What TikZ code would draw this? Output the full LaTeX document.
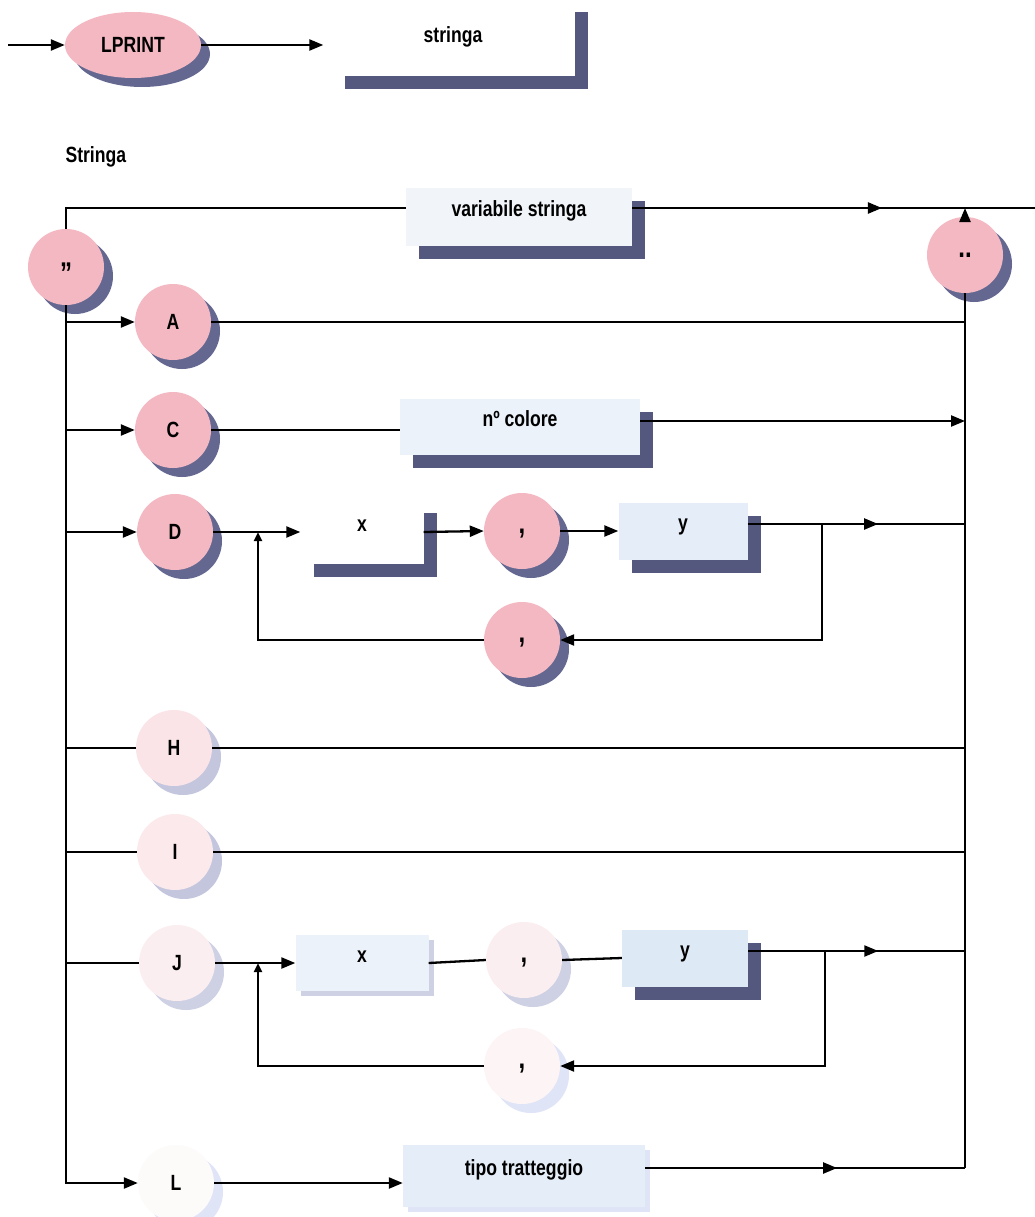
\documentclass[tikz,border=0pt]{standalone}
\usepackage{fontspec}
\setmainfont{Liberation Sans}[FakeStretch=0.8]
\usetikzlibrary{arrows.meta,shapes.geometric,shadows,decorations.markings,calc}

% fills of the round terminals, fading from pink to white down the chart
\definecolor{pinkA}{RGB}{244,184,194}
\definecolor{pinkH}{RGB}{250,228,231}
\definecolor{pinkI}{RGB}{251,233,235}
\definecolor{pinkJ}{RGB}{251,238,240}
\definecolor{pinkJb}{RGB}{252,244,245}
\definecolor{pinkL}{RGB}{253,250,250}
% shadow tones
\definecolor{shdark}{RGB}{84,88,126}
\definecolor{shball}{RGB}{100,104,145}
\definecolor{shmid}{RGB}{196,198,222}
\definecolor{shlight}{RGB}{206,208,228}
\definecolor{shfaint}{RGB}{224,228,247}
% fills of the rectangular non-terminals
\definecolor{bxA}{RGB}{241,244,248}
\definecolor{bxB}{RGB}{236,242,249}
\definecolor{bxC}{RGB}{228,237,248}
\definecolor{bxD}{RGB}{222,233,246}

\newcommand{\punct}[2]{\raisebox{#1}{\fontsize{30pt}{30pt}\selectfont #2}}

\tikzset{
  wire/.style={line width=2.3pt},
  midarrow/.style={postaction={decorate},
    decoration={markings,mark=at position #1 with {\arrow{>}}}},
  ball/.style={circle, minimum size=76pt, inner sep=0pt,
    text height=14pt, text depth=0pt, fill=#1},
  ballshadow/.style={drop shadow={shadow xshift=9pt, shadow yshift=-9pt,
    fill=#1, opacity=1}},
  termbox/.style={rectangle, inner sep=0pt, text height=10pt, text depth=12pt, fill=#1},
  boxshadow/.style={drop shadow={shadow xshift=13pt, shadow yshift=-13pt,
    fill=#1, opacity=1}},
  thinshadow/.style={drop shadow={shadow xshift=5pt, shadow yshift=-5pt,
    fill=#1, opacity=1}},
  smalltip/.style={-{Triangle[length=9pt,width=8pt]}}
}

\begin{document}
\begin{tikzpicture}[x=1pt, y=-1pt, >={Triangle[length=14pt,width=11pt]},
  every node/.style={font=\fontsize{22pt}{24pt}\selectfont\bfseries}]
\fill[white] (0,0) rectangle (1035,1217);
\useasboundingbox (0,0) rectangle (1035,1217);

% ---- LPRINT statement ----
\coordinate (in0) at (8,45);
\node[ellipse, minimum width=136pt, minimum height=66pt, inner sep=0pt,
  fill=pinkA, ballshadow=shball] (lp) at (133,45) {LPRINT};
\node[termbox=white, boxshadow=shdark, minimum width=243pt, minimum height=77pt,
  text height=14pt, text depth=4pt] (sb) at (453,38) {stringa};

\node[anchor=west] (lbl) at (62,157) {Stringa};

% ---- string definition ----
\node[ball=pinkA, ballshadow=shball] (q) at (66,267) {\punct{-9pt}{”}};
\node[termbox=bxA, boxshadow=shdark, minimum width=226pt, minimum height=58pt]
  (vs) at (519,217) {variabile stringa};
\node[ball=pinkA, ballshadow=shball] (e) at (965,255) {\punct{5pt}{..}};

\node[ball=pinkA, ballshadow=shball] (a) at (173,322) {A};
\node[ball=pinkA, ballshadow=shball] (c) at (173,430) {C};
\node[termbox=bxB, boxshadow=shdark, minimum width=240pt, minimum height=56pt]
  (nc) at (520,427) {nº colore};

\node[ball=pinkA, ballshadow=shball] (d) at (175,532) {D};
\node[termbox=white, boxshadow=shdark, minimum width=123pt, minimum height=64pt]
  (xd) at (362,532) {x};
\node[ball=pinkA, ballshadow=shball] (c1) at (522,531) {\punct{5pt}{,}};
\node[termbox=bxC, boxshadow=shdark, minimum width=129pt, minimum height=57pt]
  (yd) at (683,531) {y};
\node[ball=pinkA, ballshadow=shball] (c2) at (522,640) {\punct{5pt}{,}};

\node[ball=pinkH, ballshadow=shmid] (h) at (174,748) {H};
\node[ball=pinkI, ballshadow=shmid] (i) at (175,852) {I};

\node[ball=pinkJ, ballshadow=shlight] (j) at (177,963) {J};
\node[termbox=bxB, thinshadow=shlight, minimum width=133pt, minimum height=56pt]
  (xj) at (362,963) {x};
\node[ball=pinkJ, ballshadow=shlight] (cj) at (524,960) {\punct{5pt}{,}};
\node[termbox=bxD, boxshadow=shdark, minimum width=126pt, minimum height=57pt]
  (yj) at (685,958) {y};
\node[ball=pinkJb, ballshadow=shfaint] (cj2) at (522,1066) {\punct{5pt}{,}};

\node[ball=pinkL, ballshadow=shfaint] (l) at (176,1183) {L};
\node[termbox=bxC, thinshadow=shfaint, minimum width=242pt, minimum height=62pt]
  (tb) at (524,1176) {tipo tratteggio};

% ---- connectors ----
\draw[wire,->] (in0) -- (lp.west);
\draw[wire,->,shorten >=8pt] (lp.east) -- (lp.east -| sb.west);

\coordinate (top) at (0,208);
\coordinate (exit) at (1035,208);
\draw[wire] (q.north) -- (q.north |- top) -- (top -| vs.west);
\draw[wire,midarrow=0.62] (top -| vs.east) -- (exit);
\draw[wire,->] (e.north) -- (e.north |- top);

% left bus with its branches
\draw[wire,->] (q.south) |- (l.west);
\draw[wire,->] (q.south |- a) -- (a.west);
\draw[wire,->] (q.south |- c) -- (c.west);
\draw[wire,->] (q.south |- d) -- (d.west);
\draw[wire] (q.south |- h) -- (h.west);
\draw[wire] (q.south |- i) -- (i.west);
\draw[wire] (q.south |- j) -- (j.west);

% A, C
\draw[wire] (a.east) -- (a.east -| e.south);
\draw[wire] (c.east) -- (c.east -| nc.west);
\draw[wire,->] ([yshift=6pt]nc.east) -- ([yshift=6pt]nc.east -| e.south);

% D with its repeat loop
\coordinate (dr) at (822,524);
\coordinate (dl) at (258,532);
\draw[wire,->] (d.east) -- (d.east -| xd.west);
\draw[wire,->] (xd.east) -- (c1.west);
\draw[wire,->] (c1.east) -- (yd.west);
\draw[wire,midarrow=0.6] ([yshift=7pt]yd.east) -- ([yshift=7pt]yd.east -| e.south);
\draw[wire,->] (dr) |- (c2.east);
\draw[wire,smalltip] (c2.west) -| (dl);

% H, I
\draw[wire] (h.east) -- (h.east -| e.south);
\draw[wire] (i.east) -- (i.east -| e.south);

% J with its repeat loop
\coordinate (jr) at (825,951);
\coordinate (jl) at (258,963);
\draw[wire,->] (j.east) -- (j.east -| xj.west);
\draw[wire] (xj.east) -- (cj.west);
\draw[wire] (cj.east) -- (yj.west);
\draw[wire,midarrow=0.6] ([yshift=7pt]yj.east) -- ([yshift=7pt]yj.east -| e.south);
\draw[wire,->] (jr) |- (cj2.east);
\draw[wire,smalltip] (cj2.west) -| (jl);

% L and the right-hand collector
\draw[wire,->] (l.east) -- (l.east -| tb.west);
\draw[wire,midarrow=0.6] ([yshift=8pt]tb.east) -- ([yshift=8pt]tb.east -| e.south) coordinate (cb);
\draw[wire] (cb) -- (e.south);
\end{tikzpicture}
\end{document}
